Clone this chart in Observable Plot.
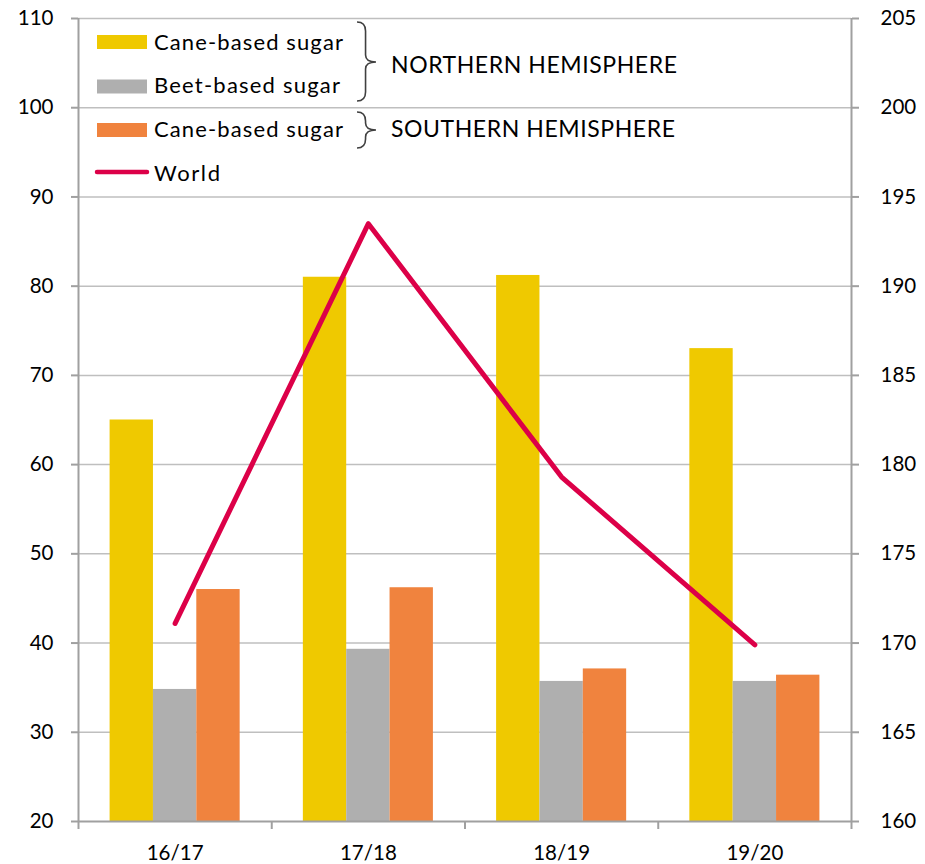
<!DOCTYPE html>
<html>
<head>
<meta charset="utf-8">
<script src="https://cdn.jsdelivr.net/npm/d3@7"></script>
<script src="https://cdn.jsdelivr.net/npm/@observablehq/plot@0.6"></script>
<style>
  html, body { margin: 0; padding: 0; background: #fff; }
  #wrap { position: relative; width: 925px; height: 864px; font-family: Lato, "Open Sans", sans-serif; }
  #wrap svg.overlay { position: absolute; left: 0; top: 0; pointer-events: none; }
</style>
</head>
<body>
<div id="wrap"></div>
<script>
// ---- data ----
const categories = ["16/17", "17/18", "18/19", "19/20"];
const northCane = [65.0, 81.0, 81.2, 73.0];
const northBeet = [34.8, 39.3, 35.7, 35.7];
const southCane = [46.0, 46.2, 37.1, 36.4];
const world = [171.1, 193.5, 179.3, 169.9];
const leftTicks = [20, 30, 40, 50, 60, 70, 80, 90, 100, 110];
const rightTicks = [160, 165, 170, 175, 180, 185, 190, 195, 200, 205];
const seriesNames = ["Cane-based sugar", "Beet-based sugar", "Cane-based sugar", "World"];
const groupNames = ["NORTHERN HEMISPHERE", "SOUTHERN HEMISPHERE"];

// ---- styles ----
const colors = ["#EFC900", "#AFAFAF", "#F0833E", "#DC0048"];
const GRID = "#BFBFBF", AXIS = "#A0A0A0";
const GROUP = 0.673, BW = GROUP / 3, PAD = (1 - GROUP) / 2;
const TICKFONT = 20.5;

// right axis (world) mapped onto left scale
const toLeft = v => 20 + (v - 160) * 2;
const toRight = v => 160 + (v - 20) / 2;

const bars = [];
[northCane, northBeet, southCane].forEach((arr, s) => {
  arr.forEach((v, i) => bars.push({cat: categories[i], idx: i, s, value: v}));
});
const worldRows = world.map((v, i) => ({idx: i, value: v}));

const chart = Plot.plot({
  width: 925,
  height: 864,
  marginLeft: 78,
  marginRight: 74,
  marginTop: 18,
  marginBottom: 43,
  style: {fontFamily: "Lato, 'Open Sans', sans-serif", fontSize: TICKFONT + "px", color: "#000", background: "#fff"},
  x: {type: "linear", domain: [-0.5, categories.length - 0.5]},
  y: {domain: [20, 110]},
  marks: [
    Plot.ruleY(leftTicks.filter(d => d > 20), {stroke: GRID, strokeWidth: 1.5}),
    Plot.rectY(bars, {
      x1: d => d.idx - 0.5 + PAD + d.s * BW,
      x2: d => d.idx - 0.5 + PAD + (d.s + 1) * BW,
      y: "value",
      fill: d => colors[d.s],
      clip: true
    }),
    Plot.line(worldRows, {
      x: "idx",
      y: d => toLeft(d.value),
      stroke: colors[3],
      strokeWidth: 5,
      strokeLinejoin: "round",
      strokeLinecap: "round"
    }),
    Plot.ruleX([-0.5, categories.length - 0.5], {stroke: AXIS, strokeWidth: 2}),
    Plot.ruleY([20], {stroke: AXIS, strokeWidth: 2}),
    Plot.axisY({anchor: "left", ticks: leftTicks, tickSize: 7, tickPadding: 18, stroke: AXIS, strokeWidth: 2, fill: "#000", fontSize: TICKFONT, label: null}),
    Plot.axisY({anchor: "right", ticks: rightTicks.map(toLeft), tickFormat: d => toRight(d), tickSize: 7, tickPadding: 22, stroke: AXIS, strokeWidth: 2, fill: "#000", fontSize: TICKFONT, label: null}),
    Plot.axisX({ticks: d3.range(-0.5, categories.length, 1), tickFormat: () => "", tickSize: 8, stroke: AXIS, strokeWidth: 2, label: null}),
    Plot.axisX({ticks: d3.range(0, categories.length), tickFormat: i => categories[i], tickSize: 0, tickPadding: 24, fill: "#000", fontSize: TICKFONT, label: null})
  ]
});

const wrap = document.getElementById("wrap");
wrap.appendChild(chart);

// ---- legend overlay ----
const ov = d3.select(wrap).append("svg").attr("class", "overlay").attr("width", 925).attr("height", 864)
  .style("font-family", "Lato, 'Open Sans', sans-serif");

const legendRows = [
  {y0: 35, base: 50, kind: "rect", c: 0, len: 189},
  {y0: 79.5, base: 93, kind: "rect", c: 1, len: 186},
  {y0: 123, base: 137, kind: "rect", c: 2, len: 189},
  {y0: 172, base: 181, kind: "line", c: 3, len: 66}
];
legendRows.forEach((r, i) => {
  if (r.kind === "rect") {
    ov.append("rect").attr("x", 97).attr("y", r.y0).attr("width", 50).attr("height", 14).attr("fill", colors[r.c]);
  } else {
    ov.append("line").attr("x1", 97).attr("x2", 147).attr("y1", r.y0).attr("y2", r.y0)
      .attr("stroke", colors[r.c]).attr("stroke-width", 4.5).attr("stroke-linecap", "round");
  }
  ov.append("text").attr("x", 154).attr("y", r.base).attr("font-size", 22).attr("fill", "#000")
    .attr("textLength", r.len).attr("lengthAdjust", "spacing").text(seriesNames[i]);
});

function brace(x0, yTop, yBot, yTip, w) {
  const xm = x0 + w * 0.45, xt = x0 + w;
  return `M${x0},${yTop} Q${xm},${yTop} ${xm},${yTop + 9} L${xm},${yTip - 7} Q${xm},${yTip} ${xt},${yTip} Q${xm},${yTip} ${xm},${yTip + 7} L${xm},${yBot - 9} Q${xm},${yBot} ${x0},${yBot}`;
}
ov.append("path").attr("d", brace(357, 22, 101, 62, 19)).attr("fill", "none").attr("stroke", "#404040").attr("stroke-width", 1.6);
ov.append("path").attr("d", brace(357, 112, 148, 130, 19)).attr("fill", "none").attr("stroke", "#404040").attr("stroke-width", 1.6);
ov.append("text").attr("x", 391).attr("y", 73).attr("font-size", 23).attr("textLength", 286).attr("lengthAdjust", "spacing").text(groupNames[0]);
ov.append("text").attr("x", 391).attr("y", 137).attr("font-size", 23).attr("textLength", 284).attr("lengthAdjust", "spacing").text(groupNames[1]);
</script>
</body>
</html>
